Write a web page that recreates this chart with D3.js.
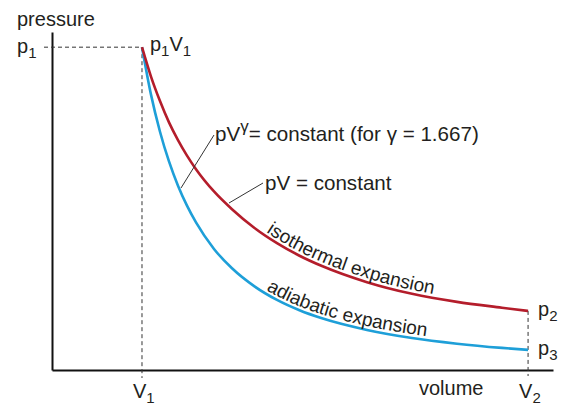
<!DOCTYPE html>
<html>
<head>
<meta charset="utf-8">
<script src="https://cdn.jsdelivr.net/npm/d3@7"></script>
<style>
  html, body { margin: 0; padding: 0; background: #fff; }
  svg { display: block; }
  text { font-family: "Liberation Sans", Arial, Helvetica, sans-serif; fill: #231f20; }
</style>
</head>
<body>
<svg id="chart" width="573" height="406"></svg>
<script>
// ---- data (volume in units of V1, pressure in units of p1) ----
const volume     = [1, 1.1, 1.2, 1.3, 1.4, 1.5, 1.6, 1.8, 2.0, 2.25, 2.5, 2.75, 3.0, 3.5, 4.0, 4.5, 5.0, 5.29];
const isothermal = [1, 0.909, 0.833, 0.767, 0.712, 0.664, 0.622, 0.553, 0.498, 0.44, 0.393, 0.354, 0.322, 0.272, 0.236, 0.211, 0.193, 0.183];
const adiabatic  = [1, 0.853, 0.738, 0.646, 0.571, 0.509, 0.457, 0.375, 0.315, 0.259, 0.217, 0.185, 0.160, 0.124, 0.099, 0.0815, 0.0684, 0.0622];

const xTickValues = [1, 5.29];
const xTickNames  = [["V", "1"], ["V", "2"]];
const yTickValues = [1];
const yTickNames  = [["p", "1"]];
const endNames    = [["p", "2"], ["p", "3"]];
const axisTitles  = ["pressure", "volume"];
const curveLabels = [["isothermal", "expansion"], ["adiabatic", "expansion"]];

const svg = d3.select("#chart");
const x = d3.scaleLinear().domain([0, 5.567]).range([52, 553]);
const y = d3.scaleLinear().domain([0, 1.047]).range([370, 32]);

const red = "#b41d2b", blue = "#1e9fd8";

// axes (no tick marks)
svg.append("g").attr("transform", `translate(0,${y(0)})`)
  .call(d3.axisBottom(x).tickValues([]).tickSizeOuter(0))
  .call(g => g.select(".domain").attr("stroke", "#111").attr("stroke-width", 2));
svg.append("g").attr("transform", `translate(${x(0)},0)`)
  .call(d3.axisLeft(y).tickValues([]).tickSizeOuter(0))
  .call(g => g.select(".domain").attr("stroke", "#111").attr("stroke-width", 2));

// dashed guides
const dash = "4,3";
svg.append("line").attr("x1", x(0) - 8).attr("x2", x(1)).attr("y1", y(1)).attr("y2", y(1))
  .attr("stroke", "#333").attr("stroke-width", 1).attr("stroke-dasharray", dash);
svg.append("line").attr("x1", x(1)).attr("x2", x(1)).attr("y1", y(1)).attr("y2", y(0) + 8)
  .attr("stroke", "#333").attr("stroke-width", 1).attr("stroke-dasharray", dash);
svg.append("line").attr("x1", x(5.29)).attr("x2", x(5.29)).attr("y1", y(isothermal[isothermal.length-1])).attr("y2", y(0) + 6)
  .attr("stroke", "#333").attr("stroke-width", 1).attr("stroke-dasharray", dash);

// curves
const isoData = volume.map((v, i) => [v, isothermal[i]]);
const adiData = volume.map((v, i) => [v, adiabatic[i]]);
const line = d3.line().x(d => x(d[0])).y(d => y(d[1])).curve(d3.curveMonotoneX);
svg.append("path").attr("d", line(adiData)).attr("fill", "none").attr("stroke", blue).attr("stroke-width", 2.6);
svg.append("path").attr("d", line(isoData)).attr("fill", "none").attr("stroke", red).attr("stroke-width", 2.6);

// label helpers
function sub(base, s, px, py, size, subSize) {
  const t = svg.append("text").attr("x", px).attr("y", py).style("font-size", size + "px");
  t.append("tspan").text(base);
  t.append("tspan").attr("dy", 5).style("font-size", subSize + "px").text(s);
  return t;
}

// axis titles
svg.append("text").attr("x", 17).attr("y", 26).style("font-size", "20px").text(axisTitles[0]);
svg.append("text").attr("x", 419).attr("y", 395).style("font-size", "20px").text(axisTitles[1]);

// tick labels
xTickValues.forEach((v, i) => sub(xTickNames[i][0], xTickNames[i][1], x(v) - 9, 398, 20, 15));
yTickValues.forEach((v, i) => sub(yTickNames[i][0], yTickNames[i][1], 17, y(v) + 6, 20, 15));

// point labels
const pv = svg.append("text").attr("x", x(1) + 8).attr("y", y(1) + 4).style("font-size", "20px");
pv.append("tspan").text("p");
pv.append("tspan").attr("dy", 5).style("font-size", "15px").text("1");
pv.append("tspan").attr("dy", -5).text("V");
pv.append("tspan").attr("dy", 5).style("font-size", "15px").text("1");

sub(endNames[0][0], endNames[0][1], x(5.29) + 10, y(isothermal[isothermal.length-1]) + 5, 20, 15);
sub(endNames[1][0], endNames[1][1], x(5.29) + 10, y(adiabatic[adiabatic.length-1]) + 5, 20, 15);

// equation annotations with leader lines
const eq1 = svg.append("text").attr("x", 215).attr("y", 141).style("font-size", "20.6px");
eq1.append("tspan").text("pV");
eq1.append("tspan").attr("dy", -9).style("font-size", "17px").text("γ");
eq1.append("tspan").attr("dy", 9).text("= constant (for γ = 1.667)");
svg.append("line").attr("x1", 214).attr("y1", 135).attr("x2", 181).attr("y2", 188).attr("stroke", "#333").attr("stroke-width", 1);

svg.append("text").attr("x", 265).attr("y", 190).style("font-size", "20.6px").text("pV = constant");
svg.append("line").attr("x1", 263).attr("y1", 183).attr("x2", 229).attr("y2", 203).attr("stroke", "#333").attr("stroke-width", 1);

// labels along curves (one text per word)
const offLine = (dy) => d3.line().x(d => x(d[0])).y(d => y(d[1]) - dy).curve(d3.curveMonotoneX);
const defs = svg.append("defs");
[[isoData, "isoPath", 4, curveLabels[0]], [adiData, "adiPath", 4, curveLabels[1]]].forEach(([data, id, off, words]) => {
  const p = defs.append("path").attr("id", id).attr("d", offLine(off)(data));
  const node = p.node();
  const total = node.getTotalLength();
  let lo = 0, hi = total;
  for (let k = 0; k < 40; k++) {
    const mid = (lo + hi) / 2;
    if (node.getPointAtLength(mid).x < 266) lo = mid; else hi = mid;
  }
  let offset = lo;
  words.forEach(w => {
    const tp = svg.append("text").style("font-size", "19px")
      .append("textPath").attr("href", "#" + id).attr("startOffset", offset).text(w);
    offset += tp.node().getComputedTextLength() + 19 * 0.278;
  });
});
</script>
</body>
</html>
